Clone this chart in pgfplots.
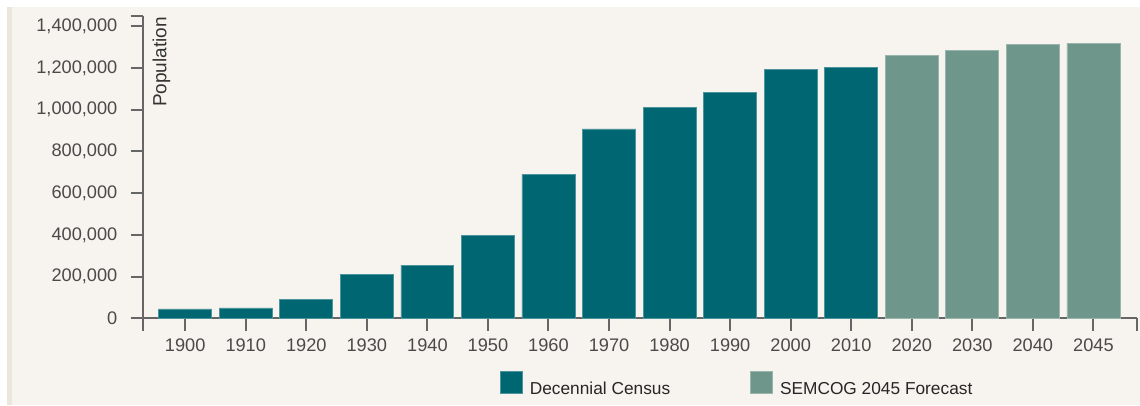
\documentclass[border=0pt]{standalone}
\usepackage{pgfplots}
\pgfplotsset{compat=1.18}
\usepackage{fontspec}
\setmainfont{Liberation Sans}
\definecolor{census}{HTML}{006672}
\definecolor{forecast}{HTML}{6E968B}
\definecolor{panel}{HTML}{F7F4EF}
\definecolor{stripe}{HTML}{EDE6DD}
\definecolor{axgray}{HTML}{666666}
\definecolor{ticktext}{HTML}{4A4A4A}
\begin{document}
\begin{tikzpicture}
\path[use as bounding box] (0,0) rectangle (1140pt,405pt);
\fill[white] (0,0) rectangle (1140pt,405pt);
\fill[stripe] (7pt,0) rectangle (12pt,398pt);
\fill[panel] (12pt,0) rectangle (1140pt,398pt);
\begin{axis}[
  at={(143pt,86.7pt)}, anchor=south west,
  scale only axis, width=994pt, height=302.5pt,
  xmin=-0.697, xmax=15.72, ymin=0, ymax=1450000,
  axis x line*=bottom, axis y line*=left,
  axis line style={-, axgray, line width=2pt},
  tick align=outside, major tick length=12.5pt,
  tick style={axgray, line width=2pt},
  ybar, bar shift=0pt, bar width=0.875,
  xtick={0,...,15},
  xticklabels={1900,1910,1920,1930,1940,1950,1960,1970,1980,1990,2000,2010,2020,2030,2040,2045},
  ytick={0,200000,400000,600000,800000,1000000,1200000,1400000},
  yticklabels={0,{200,000},{400,000},{600,000},{800,000},{1,000,000},{1,200,000},{1,400,000}},
  scaled y ticks=false,
  extra x ticks={-0.697,15.72}, extra x tick labels={},
  extra y ticks={1450000}, extra y tick labels={},
  extra tick style={grid=none},
  tick label style={font=\fontsize{18.2}{22}\selectfont, text=ticktext, inner sep=0pt},
  yticklabel style={xshift=-13pt},
  xticklabel style={yshift=-8.2pt},
  legend style={at={(0.3592,-0.2164)}, anchor=west, draw=none, fill=none,
    inner sep=0pt, outer sep=0pt, nodes={inner sep=0pt},
    font=\fontsize{17.3}{20}\selectfont, text=black!85,
    /tikz/every odd column/.append style={column sep=7pt},
    /tikz/every even column/.append style={column sep=80pt}},
  legend columns=2,
  legend image code/.code={\fill[#1] (0pt,-4pt) rectangle (22pt,18pt);},
]
\addplot[fill=census, draw=census!70!white, line width=0.8pt] coordinates {
 (0,44792) (1,49576) (2,90050) (3,211251) (4,254068) (5,396001)
 (6,690259) (7,907871) (8,1011793) (9,1083592) (10,1194156) (11,1202362)};
\addlegendentry{Decennial Census}
\addplot[fill=forecast, draw=forecast!70!white, line width=0.8pt] coordinates {
 (12,1261000) (13,1285000) (14,1312000) (15,1318000)};
\addlegendentry{SEMCOG 2045 Forecast}
\end{axis}
\node[rotate=90, anchor=east, inner sep=0pt, font=\fontsize{19}{22}\selectfont, text=black!80] at (161.5pt,388pt) {Population};
\end{tikzpicture}
\end{document}
